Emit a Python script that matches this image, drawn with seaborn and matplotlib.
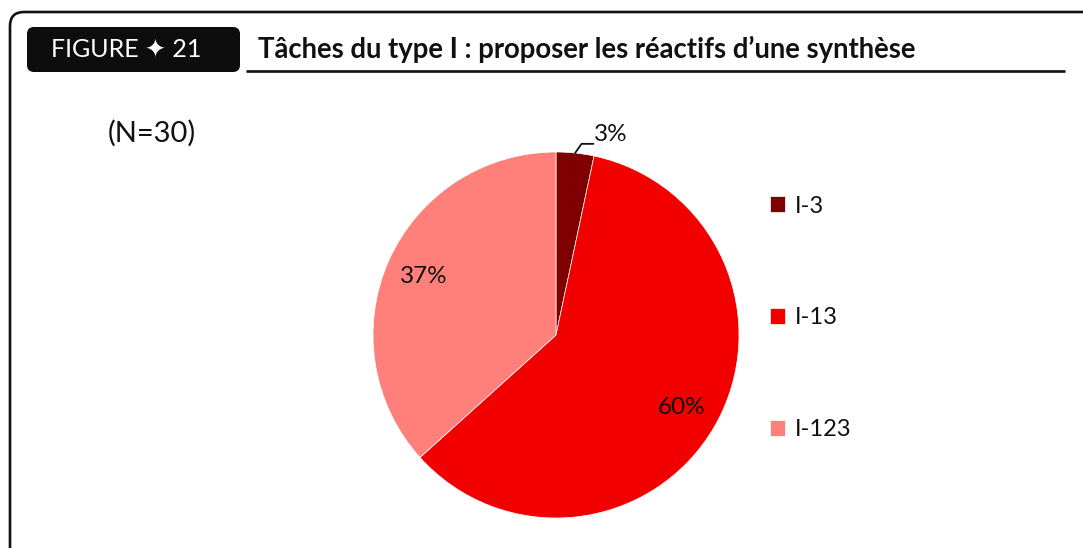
import numpy as np
import matplotlib
matplotlib.use("Agg")
import matplotlib.pyplot as plt
import seaborn as sns
from matplotlib.patches import FancyBboxPatch

# données
categories = ["I-3", "I-13", "I-123"]
effectifs = [1, 18, 11]  # N = 30
couleurs = ["#7F0000", "#F20000", "#FF807A"]
titre = "Tâches du type I : proposer les réactifs d\u2019une synthèse"
numero = "FIGURE \u2726 21"
effectif_total = "(N=30)"

sns.set_theme(style="white")
plt.rcParams["font.family"] = ["Lato", "DejaVu Sans"]

W, H = 1083, 548
fig = plt.figure(figsize=(W / 100, H / 100), dpi=100)
fig.patch.set_facecolor("white")

# calque en pixels pour le cadre et l'en-tête
bg = fig.add_axes([0, 0, 1, 1])
bg.set_xlim(0, W)
bg.set_ylim(H, 0)
bg.axis("off")

cadre = FancyBboxPatch((10, 12), 1200, 700, boxstyle="round,pad=0,rounding_size=14",
                       fc="none", ec="#111111", lw=1.9)
bg.add_patch(cadre)

boite = FancyBboxPatch((27, 27), 213, 45, boxstyle="round,pad=0,rounding_size=7",
                       fc="#0d0d0d", ec="none")
bg.add_patch(boite)
bg.text(126, 50, numero, color="white", fontsize=18, ha="center", va="center",
        family=["Lato", "DejaVu Sans"])

bg.text(258, 49, titre, fontsize=19.8, fontweight="bold", ha="left", va="center", color="#111111")
bg.plot([246, 1065], [71, 71], color="#111111", lw=1.9, solid_capstyle="butt")

bg.text(152, 133, effectif_total, fontsize=21, ha="center", va="center", color="#111111")

# camembert
cx, cy, r = 556, 335, 183
ax = fig.add_axes([(cx - r) / W, (H - cy - r) / H, 2 * r / W, 2 * r / H])
total = sum(effectifs)


def pct(p):
    return "" if p < 5 else f"{p:.0f}%"


wedges, _, autotexts = ax.pie(effectifs, colors=couleurs, startangle=90, counterclock=False,
                              autopct=pct, pctdistance=0.79,
                              wedgeprops=dict(edgecolor="white", linewidth=0.5),
                              textprops=dict(fontsize=17.5, color="#111111"))
ax.set_xlim(-1, 1)
ax.set_ylim(-1, 1)
ax.set_aspect("equal")
ax.axis("off")

# étiquette extérieure pour la petite part
w = wedges[0]
ang = np.deg2rad((w.theta1 + w.theta2) / 2)
x0, y0 = np.cos(ang), np.sin(ang)
ax.plot([x0, x0 + 0.035, x0 + 0.1], [y0, y0 + 0.05, y0 + 0.05], color="#111111", lw=1.3,
        clip_on=False)
ax.text(x0 + 0.105, y0 + 0.1, f"{100 * effectifs[0] / total:.0f}%", fontsize=17.5,
        ha="left", va="center", color="#111111")

leg = ax.legend(wedges, categories, loc="center left", bbox_to_anchor=(770, 318),
                bbox_transform=bg.transData, frameon=False, fontsize=17,
                handlelength=0.65, handleheight=0.65, handletextpad=0.4,
                labelspacing=3.85, borderpad=0, borderaxespad=0)
for t in leg.get_texts():
    t.set_color("#111111")

fig.savefig("out.png", dpi=100)
